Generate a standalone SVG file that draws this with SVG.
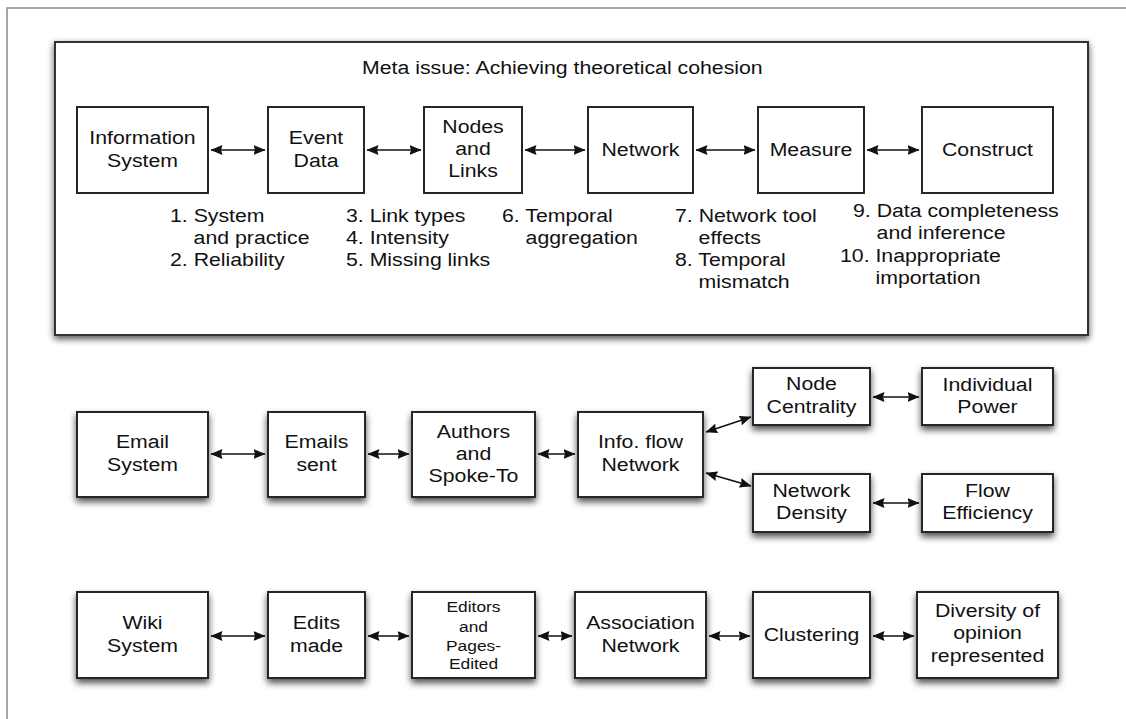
<svg xmlns="http://www.w3.org/2000/svg" width="1126" height="719" viewBox="0 0 1126 719">
  <style>
    .frame { fill: none; stroke: #8c8c8c; stroke-width: 1.5; }
    .panel { fill: #fff; stroke: #333; stroke-width: 2; }
    .box { fill: #fff; stroke: #262626; stroke-width: 2; }
    .lbl { font-family: "Liberation Sans", Arial, Helvetica, sans-serif; font-size: 19px; fill: #111; text-anchor: middle; }
    .sm { font-size: 15.5px; }
    .lst { font-family: "Liberation Sans", Arial, Helvetica, sans-serif; font-size: 19px; fill: #111; }
    .conn line { stroke: #111; stroke-width: 1.7; marker-start: url(#ah); marker-end: url(#ah); }
  </style>
  <defs>
    <filter id="sh" x="-20%" y="-30%" width="140%" height="170%">
      <feGaussianBlur in="SourceAlpha" stdDeviation="3.5"/>
      <feOffset dy="4"/>
      <feComponentTransfer><feFuncA type="linear" slope="0.7"/></feComponentTransfer>
      <feMerge><feMergeNode/><feMergeNode in="SourceGraphic"/></feMerge>
    </filter>
    <filter id="shp" x="-5%" y="-10%" width="110%" height="125%">
      <feGaussianBlur in="SourceAlpha" stdDeviation="3.5"/>
      <feOffset dy="3"/>
      <feComponentTransfer><feFuncA type="linear" slope="0.7"/></feComponentTransfer>
      <feMerge><feMergeNode/><feMergeNode in="SourceGraphic"/></feMerge>
    </filter>
    <marker id="ah" viewBox="0 0 12 10" refX="11.5" refY="5" markerWidth="12" markerHeight="10" markerUnits="userSpaceOnUse" orient="auto-start-reverse">
      <path d="M0,0 L12,5 L0,10 L1.5,5 z" fill="#111"/>
    </marker>
  </defs>

  <rect width="1126" height="719" fill="#fff"/>
  <!-- page frame -->
  <polyline class="frame" points="7,719 7,8 1126,8"/>

  <!-- meta-issue panel -->
  <g id="meta-panel">
    <rect class="panel" x="55" y="42" width="1033" height="293" filter="url(#shp)"/>
    <text class="lst" transform="translate(362 0) scale(1.12 1)" y="74">Meta issue: Achieving theoretical cohesion</text>
  </g>

  <!-- generic chain -->
  <g id="information-system">
    <rect class="box" x="77" y="107" width="131" height="86"/>
    <text class="lbl" transform="translate(142.5 0) scale(1.12 1)"><tspan x="0" y="144">Information</tspan><tspan x="0" y="167">System</tspan></text>
  </g>
  <g id="event-data">
    <rect class="box" x="268" y="107" width="96" height="86"/>
    <text class="lbl" transform="translate(316 0) scale(1.12 1)"><tspan x="0" y="144">Event</tspan><tspan x="0" y="167">Data</tspan></text>
  </g>
  <g id="nodes-links">
    <rect class="box" x="424" y="107" width="98" height="86"/>
    <text class="lbl" transform="translate(473 0) scale(1.12 1)"><tspan x="0" y="133">Nodes</tspan><tspan x="0" y="155">and</tspan><tspan x="0" y="177">Links</tspan></text>
  </g>
  <g id="network">
    <rect class="box" x="588" y="107" width="105" height="86"/>
    <text class="lbl" transform="translate(640.5 0) scale(1.12 1)" y="156">Network</text>
  </g>
  <g id="measure">
    <rect class="box" x="758" y="107" width="106" height="86"/>
    <text class="lbl" transform="translate(811 0) scale(1.12 1)" y="156">Measure</text>
  </g>
  <g id="construct">
    <rect class="box" x="922" y="107" width="131" height="86"/>
    <text class="lbl" transform="translate(987.5 0) scale(1.12 1)" y="156">Construct</text>
  </g>

  <!-- issue lists -->
  <g id="issues">
    <text class="lst" transform="translate(170 0) scale(1.12 1)"><tspan x="0" y="222">1. System</tspan><tspan x="21.1" y="244">and practice</tspan><tspan x="0" y="266">2. Reliability</tspan></text>
    <text class="lst" transform="translate(346 0) scale(1.12 1)"><tspan x="0" y="222">3. Link types</tspan><tspan x="0" y="244">4. Intensity</tspan><tspan x="0" y="266">5. Missing links</tspan></text>
    <text class="lst" transform="translate(502 0) scale(1.12 1)"><tspan x="0" y="222">6. Temporal</tspan><tspan x="21.1" y="244">aggregation</tspan></text>
    <text class="lst" transform="translate(675 0) scale(1.12 1)"><tspan x="0" y="222">7. Network tool</tspan><tspan x="21.1" y="244">effects</tspan><tspan x="0" y="266">8. Temporal</tspan><tspan x="21.1" y="288">mismatch</tspan></text>
    <text class="lst" transform="translate(840 0) scale(1.12 1)"><tspan x="11.6" y="217">9. Data completeness</tspan><tspan x="32.7" y="239">and inference</tspan><tspan x="0" y="262">10. Inappropriate</tspan><tspan x="31.7" y="284">importation</tspan></text>
  </g>

  <!-- email chain -->
  <g id="email-system">
    <rect class="box" x="77" y="412" width="131" height="85" filter="url(#sh)"/>
    <text class="lbl" transform="translate(142.5 0) scale(1.12 1)"><tspan x="0" y="448">Email</tspan><tspan x="0" y="471">System</tspan></text>
  </g>
  <g id="emails-sent">
    <rect class="box" x="268" y="412" width="97" height="85" filter="url(#sh)"/>
    <text class="lbl" transform="translate(316.5 0) scale(1.12 1)"><tspan x="0" y="448">Emails</tspan><tspan x="0" y="471">sent</tspan></text>
  </g>
  <g id="authors-spoke-to">
    <rect class="box" x="412" y="412" width="123" height="85" filter="url(#sh)"/>
    <text class="lbl" transform="translate(473.5 0) scale(1.12 1)"><tspan x="0" y="438">Authors</tspan><tspan x="0" y="460">and</tspan><tspan x="0" y="482">Spoke-To</tspan></text>
  </g>
  <g id="info-flow-network">
    <rect class="box" x="578" y="412" width="125" height="85" filter="url(#sh)"/>
    <text class="lbl" transform="translate(640.5 0) scale(1.12 1)"><tspan x="0" y="448">Info. flow</tspan><tspan x="0" y="471">Network</tspan></text>
  </g>
  <g id="node-centrality">
    <rect class="box" x="753" y="368" width="117" height="57" filter="url(#sh)"/>
    <text class="lbl" transform="translate(811.5 0) scale(1.12 1)"><tspan x="0" y="390">Node</tspan><tspan x="0" y="413">Centrality</tspan></text>
  </g>
  <g id="individual-power">
    <rect class="box" x="922" y="368" width="131" height="57" filter="url(#sh)"/>
    <text class="lbl" transform="translate(987.5 0) scale(1.12 1)"><tspan x="0" y="391">Individual</tspan><tspan x="0" y="413">Power</tspan></text>
  </g>
  <g id="network-density">
    <rect class="box" x="753" y="474" width="117" height="58" filter="url(#sh)"/>
    <text class="lbl" transform="translate(811.5 0) scale(1.12 1)"><tspan x="0" y="497">Network</tspan><tspan x="0" y="519">Density</tspan></text>
  </g>
  <g id="flow-efficiency">
    <rect class="box" x="922" y="474" width="131" height="58" filter="url(#sh)"/>
    <text class="lbl" transform="translate(987.5 0) scale(1.12 1)"><tspan x="0" y="497">Flow</tspan><tspan x="0" y="519">Efficiency</tspan></text>
  </g>

  <!-- wiki chain -->
  <g id="wiki-system">
    <rect class="box" x="77" y="592" width="131" height="86" filter="url(#sh)"/>
    <text class="lbl" transform="translate(142.5 0) scale(1.12 1)"><tspan x="0" y="629">Wiki</tspan><tspan x="0" y="652">System</tspan></text>
  </g>
  <g id="edits-made">
    <rect class="box" x="268" y="592" width="97" height="86" filter="url(#sh)"/>
    <text class="lbl" transform="translate(316.5 0) scale(1.12 1)"><tspan x="0" y="629">Edits</tspan><tspan x="0" y="652">made</tspan></text>
  </g>
  <g id="editors-pages">
    <rect class="box" x="412" y="592" width="123" height="86" filter="url(#sh)"/>
    <text class="lbl sm" transform="translate(473.5 0) scale(1.12 1)"><tspan x="0" y="612">Editors</tspan><tspan x="0" y="632">and</tspan><tspan x="0" y="651">Pages-</tspan><tspan x="0" y="669">Edited</tspan></text>
  </g>
  <g id="association-network">
    <rect class="box" x="575" y="592" width="131" height="86" filter="url(#sh)"/>
    <text class="lbl" transform="translate(640.5 0) scale(1.12 1)"><tspan x="0" y="629">Association</tspan><tspan x="0" y="652">Network</tspan></text>
  </g>
  <g id="clustering">
    <rect class="box" x="753" y="592" width="117" height="86" filter="url(#sh)"/>
    <text class="lbl" transform="translate(811.5 0) scale(1.12 1)" y="641">Clustering</text>
  </g>
  <g id="diversity">
    <rect class="box" x="917" y="592" width="141" height="86" filter="url(#sh)"/>
    <text class="lbl" transform="translate(987.5 0) scale(1.12 1)"><tspan x="0" y="617">Diversity of</tspan><tspan x="0" y="639">opinion</tspan><tspan x="0" y="662">represented</tspan></text>
  </g>

  <!-- two-way connectors -->
  <g id="connectors" class="conn">
    <line x1="211" y1="150" x2="265" y2="150"/>
    <line x1="367" y1="150" x2="421" y2="150"/>
    <line x1="525" y1="150" x2="585" y2="150"/>
    <line x1="696" y1="150" x2="755" y2="150"/>
    <line x1="867" y1="150" x2="919" y2="150"/>

    <line x1="211" y1="454" x2="265" y2="454"/>
    <line x1="368" y1="454" x2="409" y2="454"/>
    <line x1="538" y1="454" x2="575" y2="454"/>
    <line x1="706" y1="432" x2="751" y2="417"/>
    <line x1="706" y1="473" x2="751" y2="486"/>
    <line x1="873" y1="397" x2="919" y2="397"/>
    <line x1="873" y1="503" x2="919" y2="503"/>

    <line x1="211" y1="636" x2="265" y2="636"/>
    <line x1="368" y1="636" x2="409" y2="636"/>
    <line x1="538" y1="636" x2="572" y2="636"/>
    <line x1="709" y1="636" x2="750" y2="636"/>
    <line x1="873" y1="636" x2="914" y2="636"/>
  </g>
</svg>
